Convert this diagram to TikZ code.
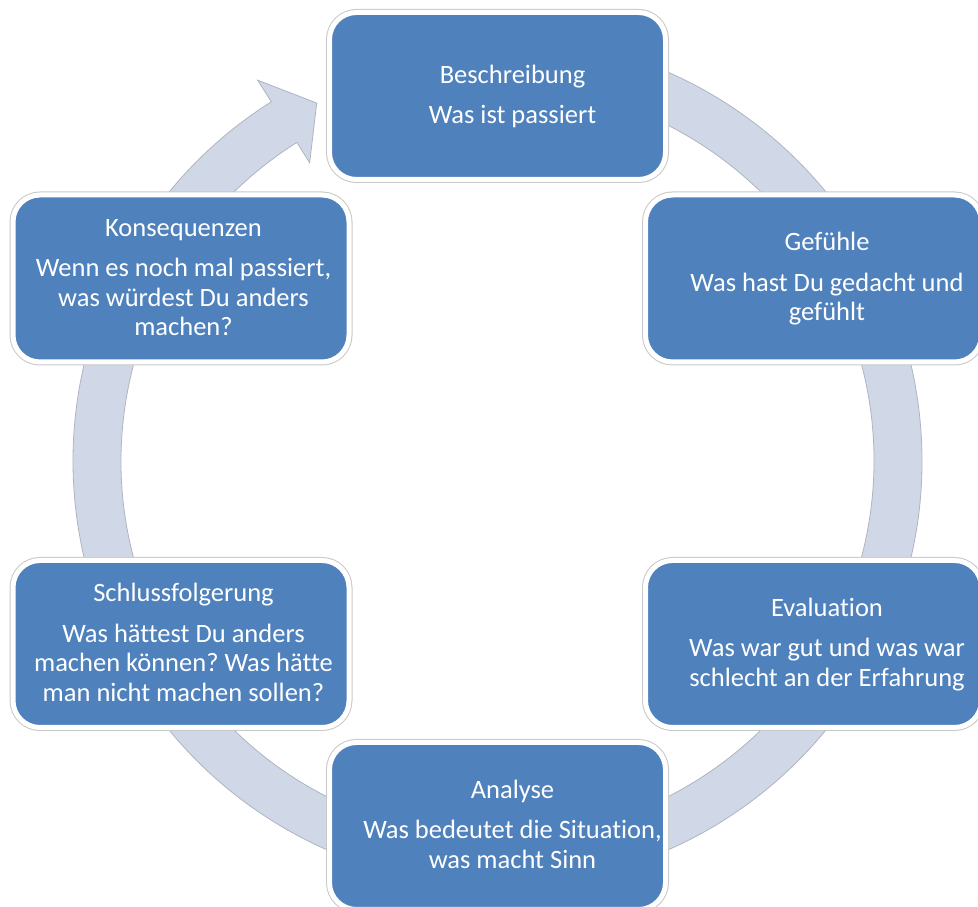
\documentclass[tikz,border=0pt]{standalone}
\usepackage{fontspec}
\setmainfont{Carlito}[Ligatures=NoCommon]
\frenchspacing
\definecolor{boxblue}{HTML}{4F81BD}
\definecolor{ringfill}{HTML}{D0D8E8}
\definecolor{ringline}{HTML}{AEB4C0}
\definecolor{boxline}{HTML}{C8C8C8}
\newcommand\bxtext[2]{\strut #1\\[11pt] #2\strut}
\begin{document}
\begin{tikzpicture}[x=1pt,y=1pt,
  cyclebox/.style={rounded corners=27pt, minimum width=336pt, minimum height=167pt,
    inner sep=0pt, fill=boxblue, draw=white, line width=5pt,
    preaction={draw=boxline, line width=7pt}},
  boxtext/.style={text=white, align=center, inner sep=0pt,
    font=\fontsize{26.5}{29.5}\selectfont}]
\useasboundingbox (0,0) rectangle (978,907);
\fill[white] (0,0) rectangle (978,907);
\coordinate (ctr) at (497.5,446);
% ring arrow
\begin{scope}[shift={(ctr)}]
\path[fill=ringfill, draw=ringline, line width=0.8pt, line join=miter]
  (95:424.5) arc[start angle=95, end angle=-237.8, radius=424.5]
  -- (122.2:450) -- (116.8:401) -- (122.2:352.5) -- (122.2:376.5)
  arc[start angle=-237.8, end angle=95, radius=376.5] -- cycle;
\end{scope}
% boxes
\node[cyclebox] (B) at (497.5,811) {};
\node[cyclebox] (G) at (813.5,628.5) {};
\node[cyclebox] (E) at (813.5,263) {};
\node[cyclebox] (A) at (497.5,81) {};
\node[cyclebox] (S) at (181,263) {};
\node[cyclebox] (K) at (181,628.5) {};
% texts
\node[boxtext] (Bt) at ([xshift=15pt,yshift=-1.6pt]B.center) {\bxtext{Beschreibung}{Was ist passiert}};
\node[boxtext] (Gt) at ([xshift=13.5pt,yshift=-1.6pt]G.center) {\bxtext{Gefühle}{Was hast Du gedacht und\\ gefühlt}};
\node[boxtext] (Et) at ([xshift=13.5pt,yshift=-1.6pt]E.center) {\bxtext{Evaluation}{Was war gut und was war\\ schlecht an der Erfahrung}};
\node[boxtext] (At) at ([xshift=15pt,yshift=-1.6pt]A.center) {\bxtext{Analyse}{Was bedeutet die Situation,\\ was macht Sinn}};
\node[boxtext] (St) at ([xshift=2.5pt,yshift=-1.6pt]S.center) {\bxtext{Schlussfolgerung}{Was hättest Du anders\\ machen können? Was hätte\\ man nicht machen sollen?}};
\node[boxtext] (Kt) at ([xshift=2.5pt,yshift=-1.6pt]K.center) {\bxtext{Konsequenzen}{Wenn es noch mal passiert,\\ was würdest Du anders\\ machen?}};
\end{tikzpicture}
\end{document}
